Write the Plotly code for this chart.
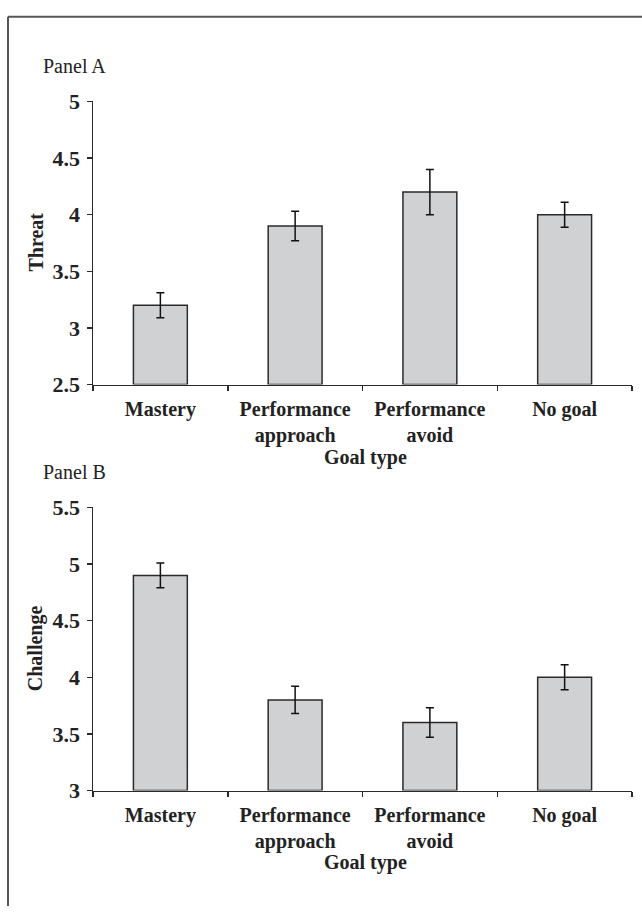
import plotly.graph_objects as go

categories = ["Mastery", "Performance<br>approach", "Performance<br>avoid", "No goal"]
threat_means = [3.2, 3.9, 4.2, 4.0]
threat_err = [0.11, 0.13, 0.20, 0.11]
challenge_means = [4.9, 3.8, 3.6, 4.0]
challenge_err = [0.11, 0.12, 0.13, 0.11]
threat_ticks = [2.5, 3, 3.5, 4, 4.5, 5]
threat_ticklabels = ["2.5", "3", "3.5", "4", "4.5", "5"]
challenge_ticks = [3, 3.5, 4, 4.5, 5, 5.5]
challenge_ticklabels = ["3", "3.5", "4", "4.5", "5", "5.5"]

W, H = 642, 919
FONT = "'Liberation Serif', 'Times New Roman', Times, serif"
BAR_FILL = "#d0d1d3"
LINE = "#2a2a2a"
TXT = "#222"


def py(px):
    return 1 - px / H


def pxx(px):
    return px / W


def bold(s):
    return "<b>" + s.replace("<br>", "</b><br><b>") + "</b>"


fig = go.Figure()

err_style = dict(type="data", visible=True, thickness=1.5, width=4, color="#111")

fig.add_trace(go.Bar(
    x=categories, y=[m - 2.5 for m in threat_means], base=2.5,
    error_y=dict(array=threat_err, **err_style),
    marker=dict(color=BAR_FILL, line=dict(color=LINE, width=1.5)),
    width=0.4, xaxis="x", yaxis="y", showlegend=False, hoverinfo="skip",
))
fig.add_trace(go.Bar(
    x=categories, y=[m - 3 for m in challenge_means], base=3,
    error_y=dict(array=challenge_err, **err_style),
    marker=dict(color=BAR_FILL, line=dict(color=LINE, width=1.5)),
    width=0.4, xaxis="x2", yaxis="y2", showlegend=False, hoverinfo="skip",
))

xdom = [pxx(93), pxx(632)]
axis_common = dict(
    showgrid=False, zeroline=False, showline=True, linecolor=LINE, linewidth=1.5,
    ticks="outside", ticklen=5, tickcolor=LINE, tickwidth=1.5,
)
xcommon = dict(
    axis_common, type="category", range=[-0.5, 3.5], domain=xdom,
    tickson="boundaries", ticklabelstandoff=6,
    tickfont=dict(family=FONT, size=20, color=TXT),
    tickvals=categories, ticktext=[bold(c) for c in categories],
)
ycommon = dict(axis_common, tickfont=dict(family=FONT, size=22, color=TXT), ticklabelstandoff=2)

fig.update_layout(
    width=W, height=H,
    margin=dict(l=0, r=0, t=0, b=0),
    paper_bgcolor="white", plot_bgcolor="white",
    font=dict(family=FONT, color=TXT),
    xaxis=dict(xcommon, anchor="y"),
    yaxis=dict(ycommon, domain=[py(383), py(92)], range=[2.5, 5],
               tickvals=threat_ticks, ticktext=[bold(t) for t in threat_ticklabels], anchor="x"),
    xaxis2=dict(xcommon, anchor="y2"),
    yaxis2=dict(ycommon, domain=[py(800.3), py(509.3)], range=[3, 5.5],
                tickvals=challenge_ticks, ticktext=[bold(t) for t in challenge_ticklabels], anchor="x2"),
)

af = dict(family=FONT, size=20, color=TXT)
anns = [
    dict(text="Panel A", x=pxx(41), y=py(55), xanchor="left", yanchor="middle", font=af),
    dict(text="Panel B", x=pxx(41), y=py(473), xanchor="left", yanchor="middle", font=af),
    dict(text="<b>Threat</b>", x=pxx(36), y=py(237), xanchor="center", yanchor="middle",
         textangle=-90, font=af),
    dict(text="<b>Challenge</b>", x=pxx(35), y=py(654), xanchor="center", yanchor="middle",
         textangle=-90, font=af),
    dict(text="<b>Goal type</b>", x=pxx(365), y=py(458), xanchor="center", yanchor="middle", font=af),
    dict(text="<b>Goal type</b>", x=pxx(365), y=py(874), xanchor="center", yanchor="middle", font=af),
]
for a in anns:
    a.update(xref="paper", yref="paper", showarrow=False)
fig.update_layout(annotations=anns)

# outer frame (left and top edges visible)
fig.add_shape(type="line", xref="paper", yref="paper", x0=pxx(8), x1=pxx(8), y0=0, y1=py(5),
              line=dict(color="#555", width=2))
fig.add_shape(type="line", xref="paper", yref="paper", x0=pxx(8), x1=1, y0=py(5), y1=py(5),
              line=dict(color="#555", width=2))

fig.write_html(
    "out.html",
    config={"displayModeBar": False, "staticPlot": True},
    post_script=(
        "document.documentElement.style.margin='0';"
        "document.body.style.margin='0';document.body.style.padding='0';"
        "document.body.style.overflow='hidden';"
        "var d=document.getElementById('{plot_id}');"
        "d.style.position='absolute';d.style.top='0px';d.style.left='0px';"
    ),
)
